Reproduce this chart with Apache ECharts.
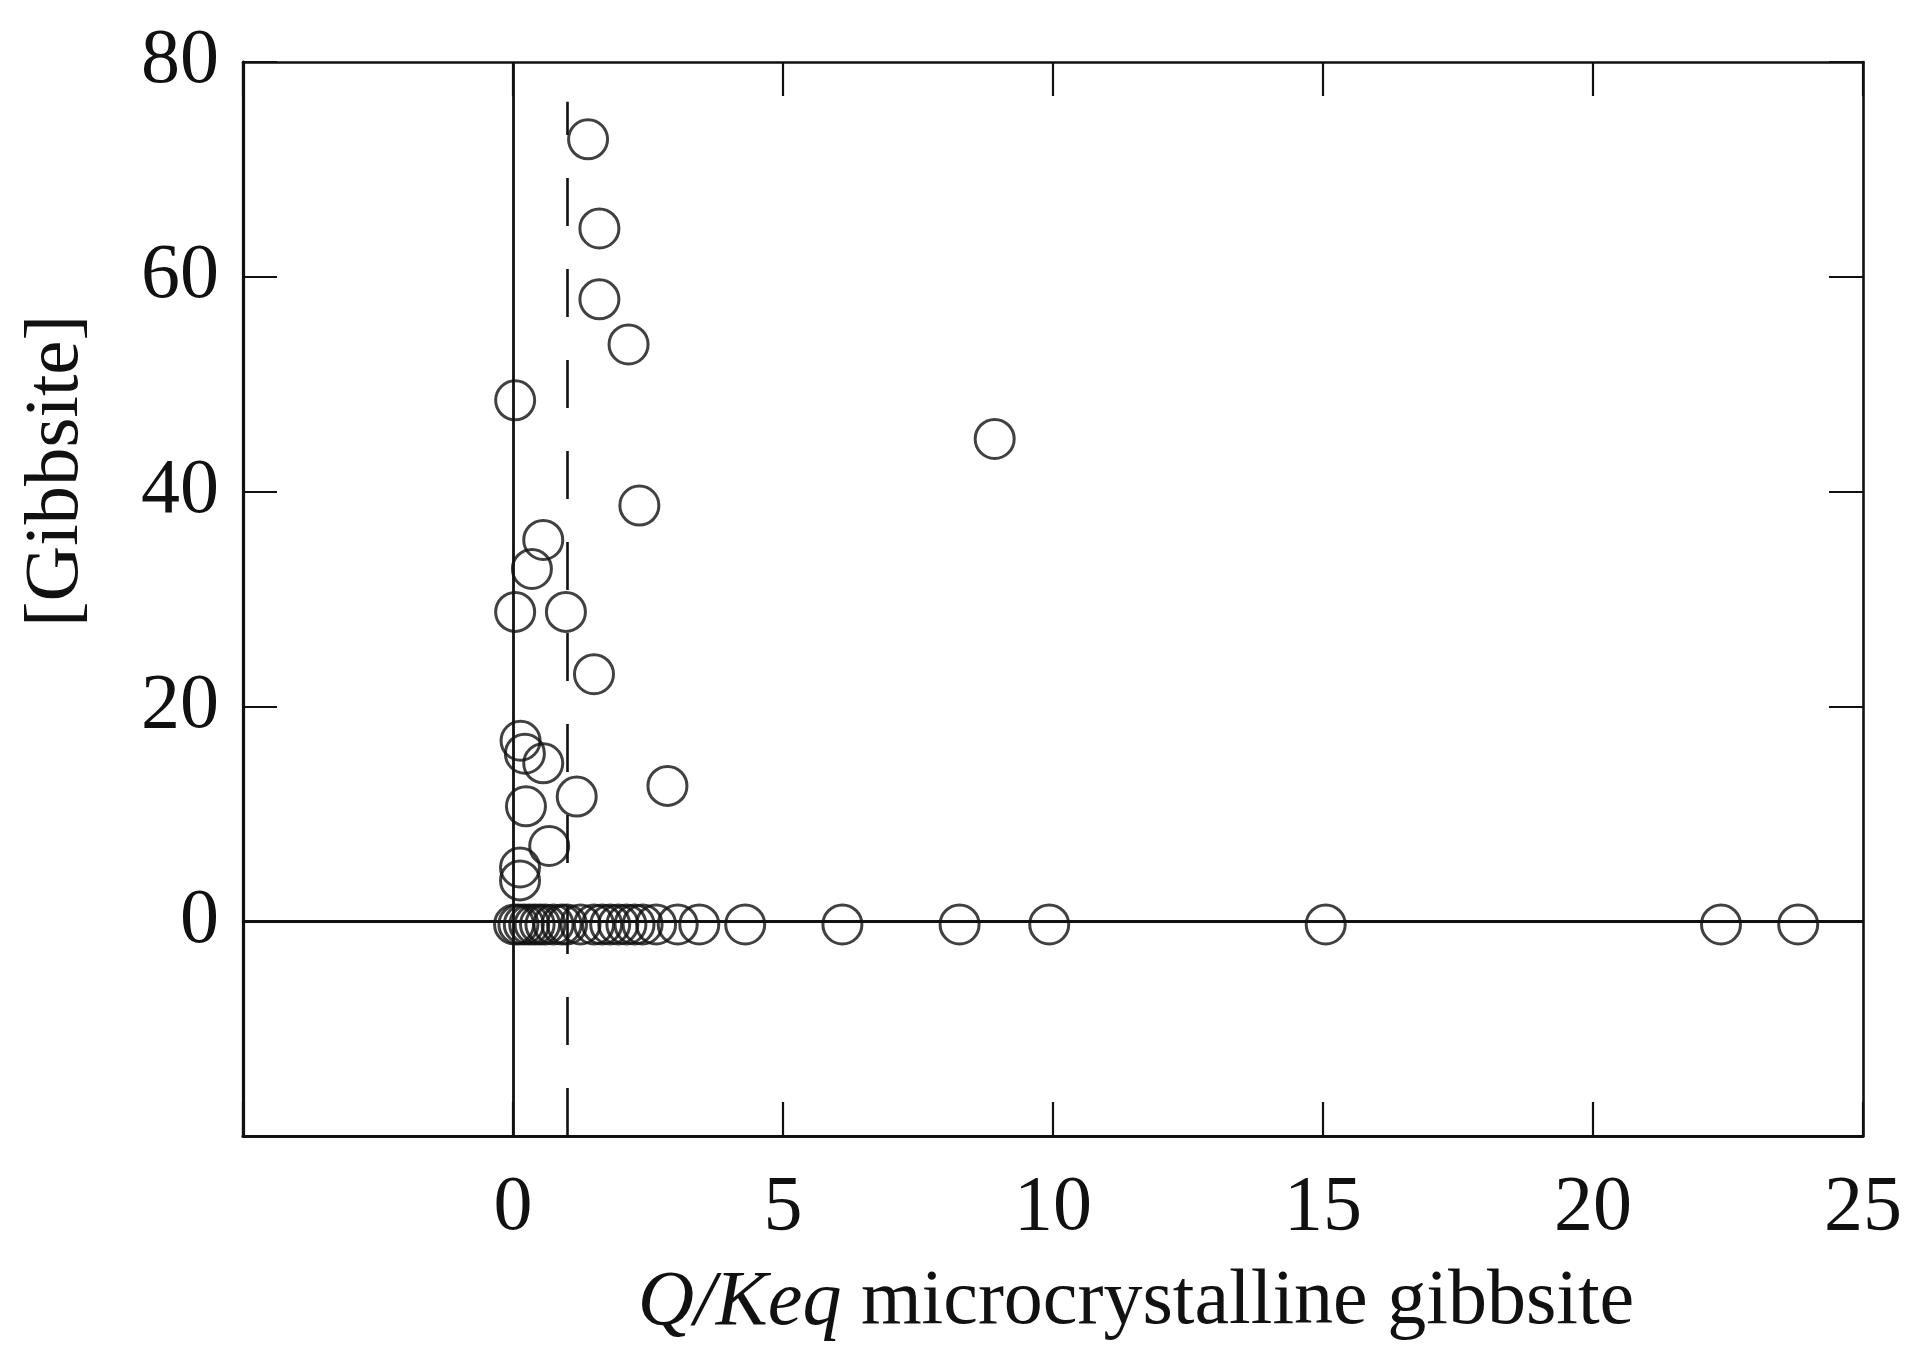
<!DOCTYPE html>
<html>
<head>
<meta charset="utf-8">
<script src="https://cdn.jsdelivr.net/npm/echarts@6/dist/echarts.min.js"></script>
<style>html,body{margin:0;padding:0;background:#fff}#c{width:1909px;height:1347px}</style>
</head>
<body>
<div id="c"></div>
<script>
// Points with non-zero gibbsite
const posX = [1.39, 1.60, 1.60, 2.14, 0.04, 8.92, 2.34, 0.56, 0.35, 0.04, 0.98, 1.50, 0.14, 0.22, 0.56, 1.18, 2.86, 0.24, 0.67, 0.13, 0.13];
const posY = [72.8, 64.5, 57.9, 53.7, 48.5, 44.9, 38.7, 35.5, 32.8, 28.8, 28.8, 23.0, 16.8, 15.6, 14.7, 11.6, 12.6, 10.7, 7.0, 5.0, 3.8];
// Points with zero gibbsite
const zeroX = [0.02, 0.1, 0.2, 0.3, 0.4, 0.5, 0.6, 0.75, 0.9, 1.0, 1.25, 1.5, 1.65, 1.8, 1.95, 2.1, 2.25, 2.4, 2.65, 3.05, 3.45, 4.3, 6.1, 8.27, 9.93, 15.05, 22.37, 23.8];
const zeroY = -0.3;
// Axis settings
const xTicks = [0, 5, 10, 15, 20, 25];
const yTicks = [0, 20, 40, 60, 80];
const xRange = [-5, 25];
const yRange = [-20, 80];
const dashX = 1;
const dashTop = 76.3;

const pts = posX.map((x, i) => [x, posY[i]]).concat(zeroX.map(x => [x, zeroY]));

const font = 'Liberation Serif, Times New Roman, serif';
const chart = echarts.init(document.getElementById('c'));
function axisBase(lw) {
  return {
    splitLine: {show: false},
    axisTick: {inside: true, length: 34, lineStyle: {color: '#111', width: 2.2}},
    axisLine: {show: true, onZero: false, lineStyle: {color: '#111', width: lw}}
  };
}
chart.setOption({
  backgroundColor: '#fff',
  animation: false,
  grid: {left: 243, right: 46, top: 62, bottom: 200},
  xAxis: [
    Object.assign(axisBase(3.2), {
      type: 'value', min: xRange[0], max: xRange[1], interval: 5, position: 'bottom',
      axisLabel: {
        margin: 34, fontFamily: font, fontSize: 78, color: '#111',
        formatter: v => xTicks.includes(v) ? String(v) : ''
      },
      name: '{i|Q/Keq}{n| microcrystalline gibbsite}',
      nameLocation: 'middle', nameGap: 128,
      nameTextStyle: {
        padding: [0, 0, 0, 166],
        rich: {
          i: {fontFamily: font, fontSize: 78, fontStyle: 'italic', color: '#111'},
          n: {fontFamily: font, fontSize: 78, color: '#111'}
        }
      }
    }),
    Object.assign(axisBase(2.6), {
      type: 'value', min: xRange[0], max: xRange[1], interval: 5, position: 'top',
      axisLabel: {show: false}
    })
  ],
  yAxis: [
    Object.assign(axisBase(3.2), {
      type: 'value', min: yRange[0], max: yRange[1], interval: 20, position: 'left',
      axisLabel: {
        margin: 24, fontFamily: font, fontSize: 78, color: '#111',
        formatter: v => yTicks.includes(v) ? String(v) : ''
      },
      name: '[Gibbsite]', nameLocation: 'middle', nameGap: 148,
      nameTextStyle: {fontFamily: font, fontSize: 77, color: '#111', padding: [0, 0, 0, 256]}
    }),
    Object.assign(axisBase(2.6), {
      type: 'value', min: yRange[0], max: yRange[1], interval: 20, position: 'right',
      axisLabel: {show: false}
    })
  ],
  series: [
    {
      type: 'scatter', xAxisIndex: 0, yAxisIndex: 0,
      data: pts, symbol: 'circle', symbolSize: 39,
      itemStyle: {color: 'rgba(0,0,0,0)', borderColor: '#111', borderWidth: 3},
      z: 5,
      markLine: {
        silent: true, symbol: ['none', 'none'], label: {show: false}, animation: false,
        data: [
          [{coord: [0, yRange[0]], lineStyle: {type: 'solid', width: 2.8, color: '#111'}}, {coord: [0, yRange[1]]}],
          [{coord: [xRange[0], 0], lineStyle: {type: 'solid', width: 2.8, color: '#111'}}, {coord: [xRange[1], 0]}],
          [{coord: [dashX, yRange[0]], lineStyle: {type: [48, 43], width: 2.6, color: '#111'}}, {coord: [dashX, dashTop]}]
        ]
      }
    }
  ]
});
</script>
</body>
</html>
